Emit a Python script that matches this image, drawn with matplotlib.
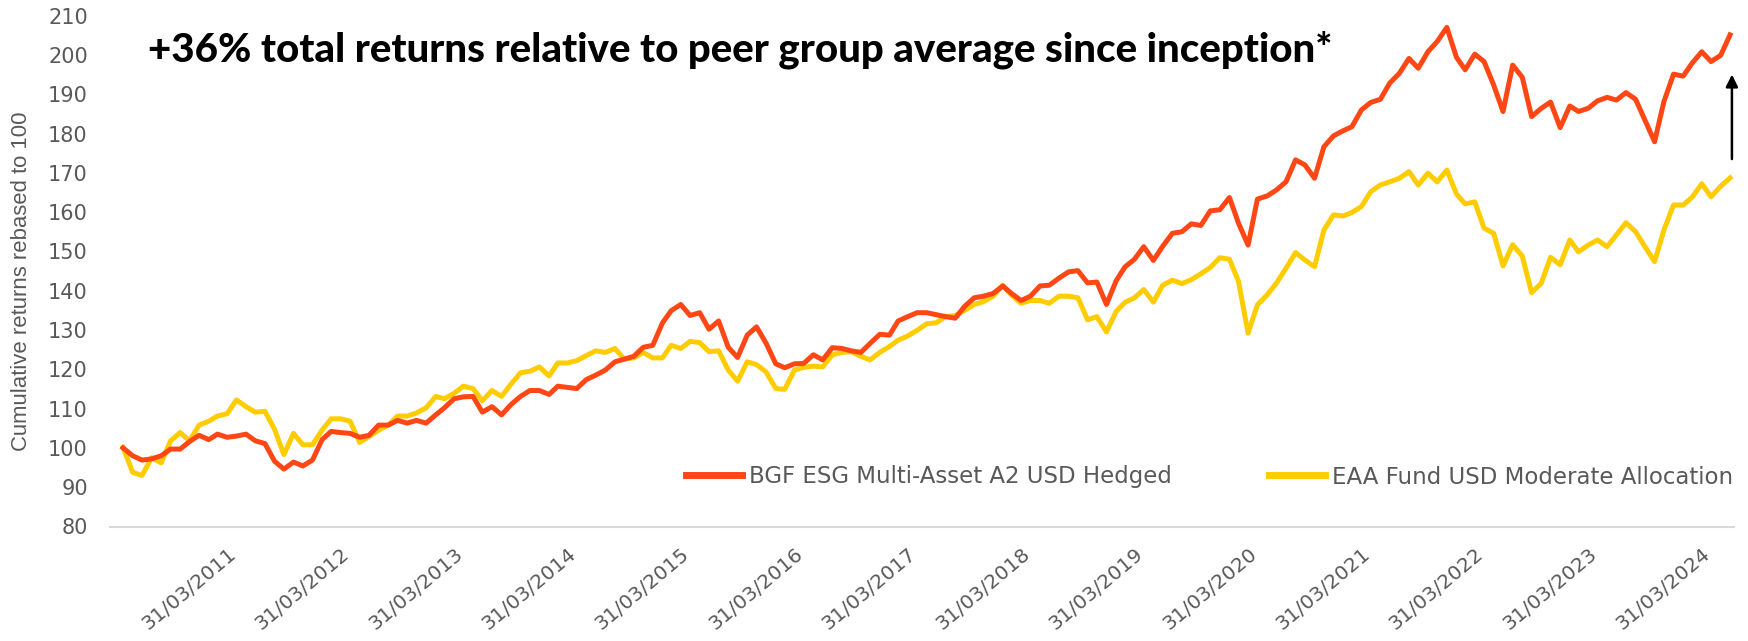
import matplotlib
matplotlib.use("Agg")
import matplotlib.pyplot as plt
import pandas as pd

# ---------------- data ----------------
start_date = "2010-04-30"
n_months = 171
dates = pd.date_range(start_date, periods=n_months, freq=pd.offsets.MonthEnd())

bgf_esg = [
    100.0, 98.0, 96.9, 97.2, 98.0, 99.7, 99.7, 101.6, 103.2, 102.1,
    103.5, 102.7, 103.0, 103.5, 101.8, 101.1, 96.6, 94.6, 96.4, 95.4,
    96.9, 102.1, 104.2, 103.9, 103.7, 102.7, 103.2, 105.8, 105.8, 107.0,
    106.3, 107.0, 106.3, 108.4, 110.2, 112.5, 113.0, 113.1, 109.1, 110.5,
    108.4, 111.0, 113.1, 114.6, 114.6, 113.6, 115.7, 115.4, 115.1, 117.4,
    118.5, 119.8, 121.9, 122.6, 123.3, 125.6, 126.1, 131.8, 134.9, 136.5,
    133.7, 134.4, 130.2, 132.3, 125.6, 123.0, 128.7, 130.8, 126.6, 121.4,
    120.4, 121.4, 121.5, 123.7, 122.4, 125.5, 125.3, 124.7, 124.3, 126.6,
    128.9, 128.7, 132.3, 133.4, 134.4, 134.4, 133.9, 133.4, 133.0, 136.0,
    138.2, 138.6, 139.3, 141.2, 139.3, 137.5, 138.6, 141.2, 141.4, 143.2,
    144.8, 145.1, 142.0, 142.2, 136.5, 142.5, 146.0, 148.0, 151.2, 147.7,
    151.3, 154.6, 155.0, 157.0, 156.6, 160.3, 160.6, 163.7, 157.2, 151.6,
    163.3, 164.1, 165.6, 167.7, 173.3, 172.0, 168.6, 176.6, 179.4, 180.7,
    181.7, 186.0, 187.9, 188.7, 192.8, 195.3, 199.1, 196.6, 200.8, 203.4,
    207.0, 199.4, 196.2, 200.2, 198.3, 192.3, 185.6, 197.4, 194.3, 184.3,
    186.4, 188.0, 181.5, 187.0, 185.6, 186.4, 188.3, 189.2, 188.5, 190.4,
    188.7, 183.4, 177.9, 188.1, 195.1, 194.6, 197.9, 200.8, 198.3, 199.9,
    205.1,
]

eaa_peer = [
    100.1, 93.8, 93.0, 97.5, 96.2, 101.8, 103.9, 101.8, 105.8, 106.8,
    108.1, 108.7, 112.2, 110.5, 109.1, 109.3, 104.7, 98.3, 103.7, 100.8,
    100.8, 104.5, 107.4, 107.4, 106.8, 101.4, 102.9, 104.5, 105.8, 108.1,
    108.1, 108.9, 110.2, 113.1, 112.5, 113.9, 115.7, 115.1, 112.0, 114.6,
    113.1, 116.2, 119.1, 119.5, 120.6, 118.3, 121.6, 121.6, 122.2, 123.5,
    124.7, 124.3, 125.3, 122.6, 122.9, 124.3, 122.9, 122.9, 126.1, 125.3,
    127.1, 126.8, 124.5, 124.7, 119.8, 117.0, 121.9, 121.2, 119.3, 115.1,
    114.9, 119.8, 120.5, 120.8, 120.6, 123.7, 124.3, 124.5, 123.3, 122.4,
    124.3, 125.8, 127.4, 128.5, 129.9, 131.6, 131.8, 133.4, 133.7, 135.0,
    136.5, 137.2, 138.6, 141.4, 138.9, 136.8, 137.5, 137.5, 136.8, 138.6,
    138.6, 138.2, 132.6, 133.4, 129.5, 134.7, 137.0, 138.2, 140.3, 137.1,
    141.4, 142.7, 141.8, 142.8, 144.3, 145.9, 148.4, 148.0, 142.4, 129.2,
    136.4, 138.9, 141.9, 145.7, 149.7, 147.8, 146.1, 155.4, 159.3, 159.0,
    159.9, 161.4, 165.2, 166.9, 167.7, 168.6, 170.3, 166.9, 169.9, 167.7,
    170.7, 164.6, 162.1, 162.6, 155.9, 154.6, 146.3, 151.7, 148.8, 139.5,
    141.9, 148.5, 146.6, 152.9, 149.9, 151.6, 152.9, 151.2, 154.2, 157.3,
    155.0, 151.2, 147.4, 155.4, 161.8, 161.8, 163.8, 167.2, 163.9, 166.6,
    168.7,
]

series_labels = ["BGF ESG Multi-Asset A2 USD Hedged", "EAA Fund USD Moderate Allocation"]
tick_dates = pd.to_datetime([f"{y}-03-31" for y in range(2011, 2025)])
tick_labels = [d.strftime("%d/%m/%Y") for d in tick_dates]
y_ticks = list(range(80, 211, 10))
title_text = "+36% total returns relative to peer group average since inception*"
y_label = "Cumulative returns rebased to 100"
arrow_from, arrow_to = 173.5, 195.0

# ---------------- style ----------------
W, H = 1749, 641
RED = "#FF4715"
YELLOW = "#FFCC00"
GRAY = "#595959"
plt.rcParams["font.family"] = ["DejaVu Sans"]

fig = plt.figure(figsize=(W / 100, H / 100), dpi=100)
ax_left, ax_right = 110 / W, 1734 / W
ax_bottom, ax_top = 1 - 526.5 / H, 1 - 15.6 / H
ax = fig.add_axes([ax_left, ax_bottom, ax_right - ax_left, ax_top - ax_bottom])

l1, = ax.plot(dates, bgf_esg, color=RED, lw=3.6, solid_joinstyle="round", zorder=3)
l2, = ax.plot(dates, eaa_peer, color=YELLOW, lw=3.6, solid_joinstyle="round", zorder=2)

month = pd.Timedelta(days=30.44)
ax.set_xlim(dates[0] - 1.38 * month, dates[-1] + 0.42 * month)
ax.set_ylim(80, 210)
ax.set_yticks(y_ticks)
ax.set_yticklabels([str(v) for v in y_ticks])
ax.set_xticks(tick_dates)
ax.set_xticklabels(tick_labels, rotation=40, ha="right", va="top", rotation_mode="anchor")

ax.tick_params(axis="y", length=0, pad=16, labelsize=15, labelcolor=GRAY)
ax.tick_params(axis="x", length=0, pad=13, labelsize=14.5, labelcolor=GRAY)
for s in ["top", "right", "left"]:
    ax.spines[s].set_visible(False)
ax.spines["bottom"].set_color("#D9D9D9")
ax.spines["bottom"].set_linewidth(1.5)
ax.grid(False)

# arrow
arrow_x = dates[-1] + 0.2 * month
ax.annotate("", xy=(arrow_x, arrow_to), xytext=(arrow_x, arrow_from),
            arrowprops=dict(arrowstyle="-|>", color="black", lw=1.8,
                            mutation_scale=18, shrinkA=0, shrinkB=0))

# legends (two single-entry legends at their positions)
leg_kw = dict(frameon=False, fontsize=16.5, labelcolor=GRAY, handlelength=2.45,
              handletextpad=0.32, borderpad=0, borderaxespad=0, loc="center left",
              bbox_transform=fig.transFigure)
leg1 = ax.legend([l1], [series_labels[0]], bbox_to_anchor=(686 / W, 1 - 477 / H), **leg_kw)
ax.add_artist(leg1)
leg2 = ax.legend([l2], [series_labels[1]], bbox_to_anchor=(1269 / W, 1 - 477 / H), **leg_kw)
for lg in (leg1, leg2):
    for h in lg.legend_handles:
        h.set_linewidth(5)

# title and y label
title = fig.text(148 / W, 1 - 50 / H, title_text, fontsize=26, fontweight="black",
                 family=["Lato", "DejaVu Sans"], color="black", ha="left", va="center")
ylab = fig.text(22 / W, 1 - 281 / H, y_label, fontsize=15, rotation=90, color=GRAY,
                ha="center", va="center", family=["Liberation Sans", "DejaVu Sans"])

fig.canvas.draw()
r = fig.canvas.get_renderer()
bb = title.get_window_extent(r)
title.set_fontsize(26 * 1188 / bb.width)
bb = ylab.get_window_extent(r)
ylab.set_fontsize(min(18, 15 * 341 / bb.height))

fig.savefig("out.png", dpi=100)
